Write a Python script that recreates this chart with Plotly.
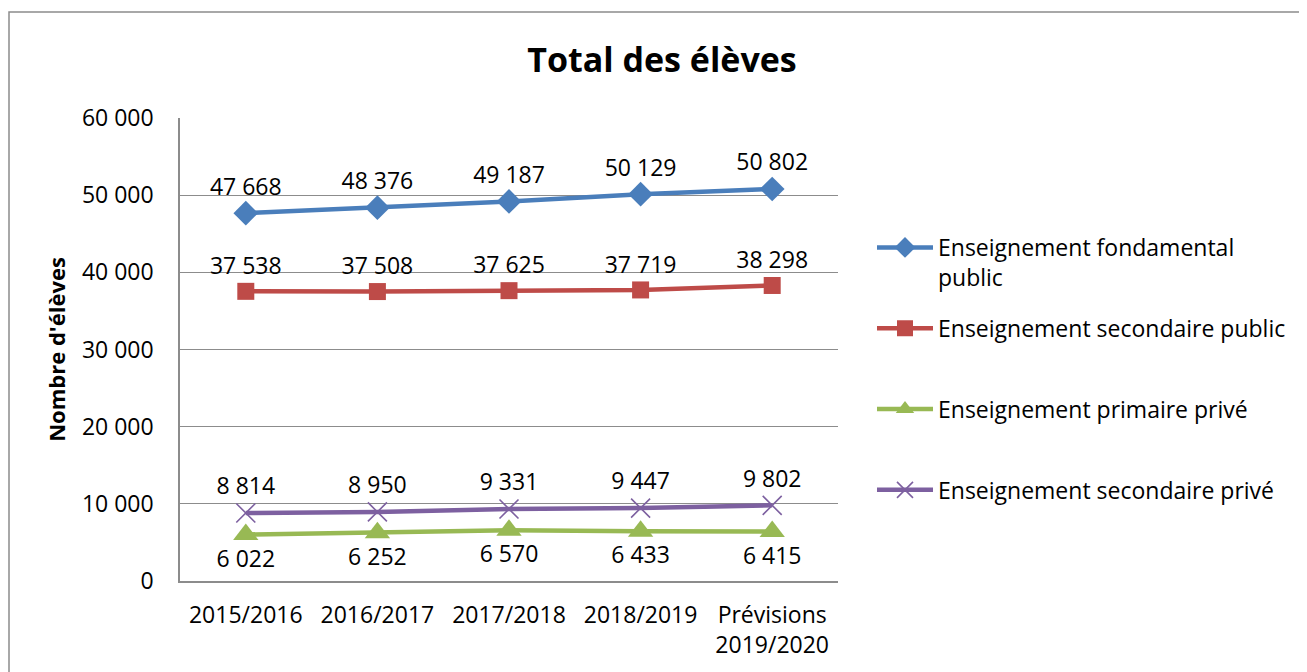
import plotly.graph_objects as go

categories = ["2015/2016", "2016/2017", "2017/2018", "2018/2019", "Prévisions<br>2019/2020"]
fondamental_public = [47668, 48376, 49187, 50129, 50802]
secondaire_public = [37538, 37508, 37625, 37719, 38298]
primaire_prive = [6022, 6252, 6570, 6433, 6415]
secondaire_prive = [8814, 8950, 9331, 9447, 9802]

y_ticks = [0, 10000, 20000, 30000, 40000, 50000, 60000]

FONT = "Open Sans"
NUM_SIZE = 23

# page body has an 8px margin, so figure coords = screen coords - 8
L, R, T, B = 172, 830, 110, 573
PW, PH = R - L, B - T

series = [
    ("Enseignement fondamental<br>public", fondamental_public, "#4A7EBB", "diamond", 19, "top center"),
    ("Enseignement secondaire public<br> ", secondaire_public, "#BE4B48", "square", 17, "top center"),
    ("Enseignement primaire privé<br> ", primaire_prive, "#98B954", "triangle-up", 22, "bottom center"),
    ("Enseignement secondaire privé<br> ", secondaire_prive, "#7D60A0", "x-thin", 19, "top center"),
]

fig = go.Figure()
for name, vals, color, sym, size, tpos in series:
    marker = dict(symbol=sym, size=size, color=color)
    if sym == "x-thin":
        marker["line"] = dict(color=color, width=1.6)
    else:
        marker["line"] = dict(width=0)
    fig.add_trace(go.Scatter(
        x=list(range(len(categories))), y=vals, name=name,
        mode="lines+markers+text",
        line=dict(color=color, width=4.5),
        marker=marker,
        texttemplate="%{y:,}", textposition=tpos,
        textfont=dict(family=FONT, size=NUM_SIZE, color="black"),
        legendgroup=name,
    ))

fig.update_layout(
    width=1307, height=672,
    margin=dict(l=L, r=1307 - R, t=T, b=672 - B),
    paper_bgcolor="white", plot_bgcolor="white",
    separators=". ",
    font=dict(family=FONT, size=NUM_SIZE, color="black"),
    title=dict(text="<b>Total des élèves</b>", x=654 / 1307, xanchor="center",
               y=1 - 52 / 672, yanchor="middle",
               font=dict(family=FONT, size=34, color="black")),
    showlegend=True,
    legend=dict(x=(864 - L) / PW, xanchor="left", y=1 - (218 - T) / PH, yanchor="top",
                font=dict(family=FONT, size=23, color="black"),
                valign="top", itemwidth=56, tracegroupgap=18, bgcolor="rgba(0,0,0,0)"),
)

fig.update_xaxes(
    range=[-0.5, 4.5], tickmode="array", tickvals=list(range(len(categories))), ticktext=categories,
    showgrid=False, showline=True, linecolor="#8C8C8C", linewidth=1.5, ticks="",
    tickfont=dict(family=FONT, size=NUM_SIZE), ticklabelstandoff=13, zeroline=False,
)
fig.update_yaxes(
    range=[0, 60000], tickmode="array", tickvals=y_ticks, tickformat=",d",
    showgrid=True, gridcolor="#8C8C8C", gridwidth=1.2,
    showline=True, linecolor="#8C8C8C", linewidth=1.5, ticks="", zeroline=False,
    tickfont=dict(family=FONT, size=NUM_SIZE), ticklabelstandoff=20,
    title=dict(text="<b>Nombre d'élèves</b>", font=dict(family=FONT, size=22), standoff=10),
)

# outer chart border
fig.add_shape(type="rect", xref="paper", yref="paper",
              x0=(1 - L) / PW, x1=(1330 - L) / PW,
              y0=-(700 - B) / PH, y1=1 + (T - 4) / PH,
              line=dict(color="#8C8C8C", width=1.5), fillcolor="rgba(0,0,0,0)", layer="below")

fig.write_html("out.html")
